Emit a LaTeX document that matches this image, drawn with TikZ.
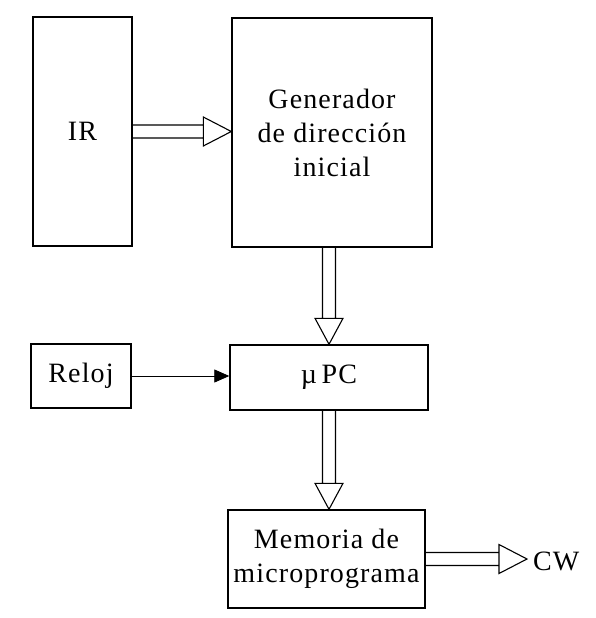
\documentclass[tikz,border=0pt]{standalone}
\usepackage{fontspec}
\setmainfont{Liberation Serif}[LetterSpace=4]
\usetikzlibrary{calc,arrows.meta}
% hollow bus arrow, left to right
\newcommand{\hbus}[2]{
  \draw[line width=1.1pt] let \p1=(#1), \p2=(#2) in
    (\x1,\y1+6.5pt) -- (\x2-28pt,\y1+6.5pt)
    (\x1,\y1-6.5pt) -- (\x2-28pt,\y1-6.5pt)
    (\x2-28pt,\y1+14.5pt) -- (\x2,\y1) -- (\x2-28pt,\y1-14.5pt) -- cycle;
}
% hollow bus arrow, top to bottom
\newcommand{\vbus}[2]{
  \draw[line width=1.1pt] let \p1=(#1), \p2=(#2) in
    (\x1-6.5pt,\y1) -- (\x1-6.5pt,\y2+26pt)
    (\x1+6.5pt,\y1) -- (\x1+6.5pt,\y2+26pt)
    (\x1-14pt,\y2+26pt) -- (\x1,\y2) -- (\x1+14pt,\y2+26pt) -- cycle;
}

\begin{document}
\begin{tikzpicture}[x=1pt, y=-1pt,
  blk/.style={draw, line width=1.4pt, align=center, inner sep=0pt,
    font=\fontsize{28}{34}\selectfont}]
\useasboundingbox (0,0) rectangle (595,618);
% bloques
\node[blk, minimum width=99pt, minimum height=229pt] (ir) at (82.5,131.5) {IR};
\node[blk, minimum width=200pt, minimum height=229pt] (gen) at (332,132.5)
  {Generador\\de dirección\\inicial};
\node[blk, minimum width=100pt, minimum height=64pt] (reloj) at (81,376) {Reloj};
\node[blk, minimum width=198pt, minimum height=65pt] (upc) at (329,377.5) {µ\,PC};
\node[blk, minimum width=197pt, minimum height=98pt] (mem) at (326.5,559)
  {Memoria de\\microprograma};
\node[anchor=west, inner sep=6pt, font=\fontsize{28}{30}\selectfont] (cw) at (527,561) {CW};
% conexiones
\hbus{ir.east}{gen.west}
\vbus{gen.south -| upc.north}{upc.north}
\vbus{upc.south}{upc.south |- mem.north}
\hbus{mem.east}{cw.west}
\draw[line width=0.8pt, -{Triangle[length=15pt, width=13pt]}] (reloj.east) -- (reloj.east -| upc.west);
\end{tikzpicture}
\end{document}
